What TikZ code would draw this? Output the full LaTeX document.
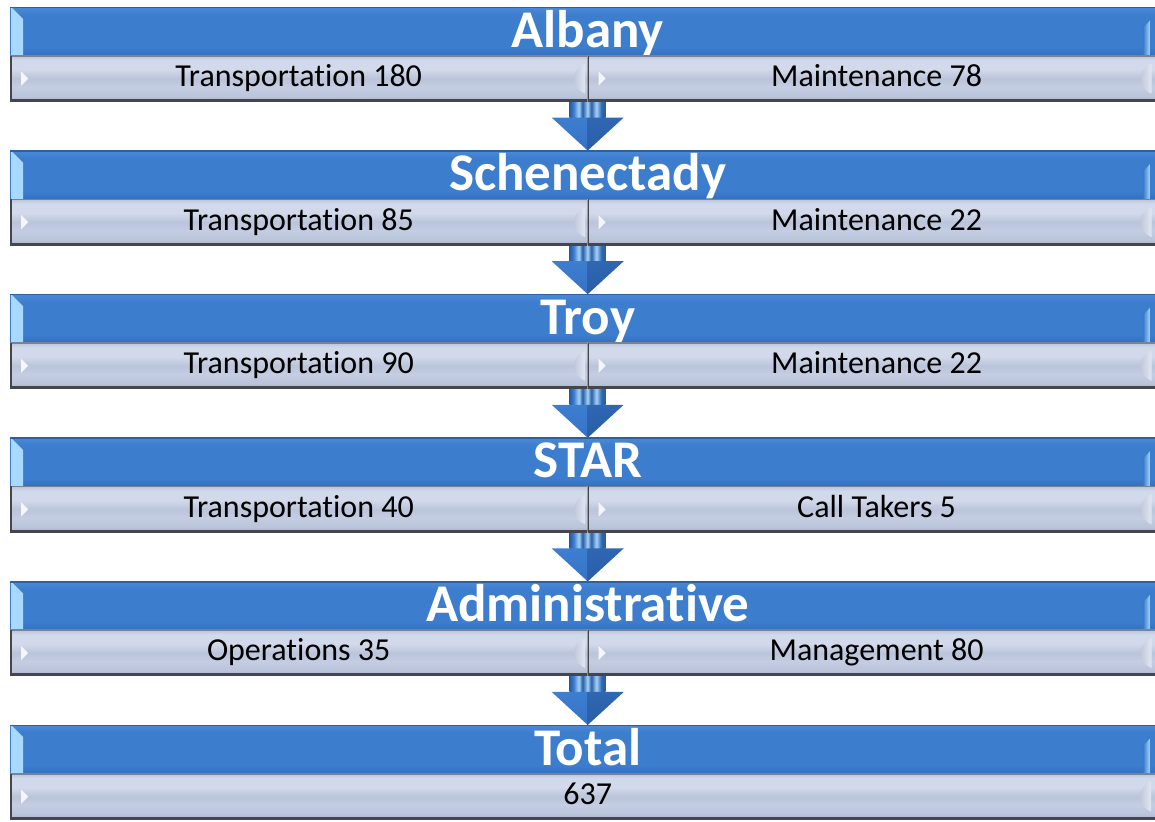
\documentclass[tikz,border=0pt]{standalone}
\usepackage{fontspec}
\setmainfont{Carlito}[Ligatures=NoCommon]
\usetikzlibrary{calc,backgrounds}

\definecolor{bluetop}{HTML}{4A89D7}
\definecolor{bluemid}{HTML}{3D7DCE}
\definecolor{bluebot}{HTML}{3470BE}
\definecolor{blueedge}{HTML}{2F5F9E}
\definecolor{bevellight}{HTML}{A8DAFF}
\definecolor{cellhi}{HTML}{D2D9EA}
\definecolor{cellmid}{HTML}{C4CDE2}
\definecolor{cellstripe}{HTML}{BAC4DA}
\definecolor{celllow}{HTML}{A9B2C6}
\definecolor{celltop}{HTML}{7A8396}
\definecolor{edgedark}{HTML}{44454D}
\definecolor{notchlight}{HTML}{E2E7F2}
\definecolor{notchshade}{HTML}{B4BDD2}
\definecolor{shaftdark}{HTML}{285BA3}
\definecolor{shaftlight}{HTML}{A4D5FA}
\definecolor{headleft}{HTML}{3D7ED1}
\definecolor{headleftlow}{HTML}{3672C4}
\definecolor{headright}{HTML}{2F67B3}
\definecolor{headrightlow}{HTML}{2A5DA6}

% banner body: light top, even middle, darker base
\pgfdeclareverticalshading{titleshade}{100bp}{color(0bp)=(bluebot); color(25bp)=(bluebot);
  color(33bp)=(bluemid); color(67bp)=(bluemid); color(75bp)=(bluetop); color(100bp)=(bluetop)}
% striped silver cell
\pgfdeclareverticalshading{cellshade}{100bp}{color(0bp)=(celllow); color(25bp)=(celllow);
  color(31bp)=(cellstripe); color(41bp)=(cellmid); color(50bp)=(cellstripe);
  color(60bp)=(cellhi); color(70bp)=(cellhi); color(75bp)=(cellstripe); color(100bp)=(cellstripe)}
% ribbed arrow shaft
\pgfdeclarehorizontalshading{shaftshade}{100bp}{color(0bp)=(shaftdark); color(25bp)=(shaftdark);
  color(31bp)=(headleft); color(38bp)=(shaftlight); color(43bp)=(shaftdark);
  color(50bp)=(shaftlight); color(55bp)=(shaftdark); color(62bp)=(shaftlight);
  color(69bp)=(headright); color(75bp)=(shaftdark); color(100bp)=(shaftdark)}

\def\notchshift{0pt}

\tikzset{
  titlebar/.style={shade, shading=titleshade, minimum width=1155pt, minimum height=48pt,
    inner sep=0pt, anchor=north west, text=white,
    font=\fontsize{53pt}{53pt}\selectfont\bfseries, text height=32pt, text depth=0pt,
    path picture={
      \shade[left color=bevellight, right color=bluemid]
        ($(path picture bounding box.north west)+(1pt,0pt)$) --
        ($(path picture bounding box.north west)+(13pt,-12pt)$) --
        ($(path picture bounding box.south west)+(13pt,0pt)$) --
        ($(path picture bounding box.south west)+(1pt,0pt)$) -- cycle;
      \shade[left color=bluemid, right color=bevellight]
        ($(path picture bounding box.south east)+(-22pt,0pt)$) --
        ($(path picture bounding box.north east)+(-22pt,-21pt)$) --
        ($(path picture bounding box.north east)+(-15pt,-13pt)$) --
        ($(path picture bounding box.south east)+(-15pt,0pt)$) -- cycle;
      \draw[blueedge, line width=2pt]
        (path picture bounding box.north west) -- (path picture bounding box.north east);
    }},
  cell/.style={shade, shading=cellshade, minimum height=46pt, inner sep=0pt,
    anchor=north west, text=black,
    font=\fontsize{32pt}{32pt}\selectfont, text height=16pt, text depth=0pt,
    path picture={
      \fill[white, opacity=0.85]
        ($(path picture bounding box.west)+(11pt,7pt)$) --
        ($(path picture bounding box.west)+(18pt,0pt)$) --
        ($(path picture bounding box.west)+(11pt,-7pt)$) -- cycle;
      \shade[left color=notchshade, right color=notchlight]
        ($(path picture bounding box.east)+(-2pt,15pt)+(\notchshift,0pt)$) .. controls
        ($(path picture bounding box.east)+(-17pt,9pt)+(\notchshift,0pt)$) and
        ($(path picture bounding box.east)+(-17pt,-9pt)+(\notchshift,0pt)$) ..
        ($(path picture bounding box.east)+(-2pt,-15pt)+(\notchshift,0pt)$) -- cycle;
      \draw[celltop, line width=2pt]
        (path picture bounding box.north west) -- (path picture bounding box.north east);
      \draw[edgedark, line width=5pt]
        (path picture bounding box.south west) -- (path picture bounding box.south east);
      \draw[edgedark, line width=3pt]
        (path picture bounding box.south west) -- (path picture bounding box.north west);
    }},
  leftcell/.style={cell, minimum width=577pt},
  rightcell/.style={cell, minimum width=578pt, /utils/exec={\def\notchshift{-12pt}}},
  wholecell/.style={cell, minimum width=1155pt, /utils/exec={\def\notchshift{-12pt}}},
}

% downward block arrow from the bottom of one tier to the banner of the next
\newcommand\flowarrow[2]{%
  \shade[shading=shaftshade] ($(#1)+(-18pt,2pt)$) rectangle ($(#2)+(18pt,33pt)$);
  \shade[top color=headleft, bottom color=headleftlow]
    ($(#2)+(-36pt,33pt)$) -- ($(#2)+(0pt,33pt)$) -- (#2) -- cycle;
  \shade[top color=headright, bottom color=headrightlow]
    ($(#2)+(0pt,33pt)$) -- ($(#2)+(36pt,33pt)$) -- (#2) -- cycle;
}

\begin{document}
\begin{tikzpicture}[x=1pt, y=1pt]
\useasboundingbox (0,0) rectangle (1155,821);

% Albany
\node[titlebar] (albany) at (10,814) {Albany};
\node[leftcell] (albanyL) at (albany.south west) {Transportation 180};
\node[rightcell] (albanyR) at (albanyL.north east) {Maintenance 78};

% Schenectady
\node[titlebar] (schen) at (10,670.4) {Schenectady};
\node[leftcell] (schenL) at (schen.south west) {Transportation 85};
\node[rightcell] (schenR) at (schenL.north east) {Maintenance 22};

% Troy
\node[titlebar] (troy) at (10,526.8) {Troy};
\node[leftcell] (troyL) at (troy.south west) {Transportation 90};
\node[rightcell] (troyR) at (troyL.north east) {Maintenance 22};

% STAR
\node[titlebar] (star) at (10,383.2) {STAR};
\node[leftcell] (starL) at (star.south west) {Transportation 40};
\node[rightcell] (starR) at (starL.north east) {Call Takers 5};

% Administrative
\node[titlebar] (admin) at (10,239.6) {Administrative};
\node[leftcell] (adminL) at (admin.south west) {Operations 35};
\node[rightcell] (adminR) at (adminL.north east) {Management 80};

% Total
\node[titlebar] (total) at (10,96) {Total};
\node[wholecell] (totalC) at (total.south west) {637};

\begin{scope}[on background layer]
  \flowarrow{albanyL.south east}{schen.north}
  \flowarrow{schenL.south east}{troy.north}
  \flowarrow{troyL.south east}{star.north}
  \flowarrow{starL.south east}{admin.north}
  \flowarrow{adminL.south east}{total.north}
\end{scope}
\end{tikzpicture}
\end{document}
